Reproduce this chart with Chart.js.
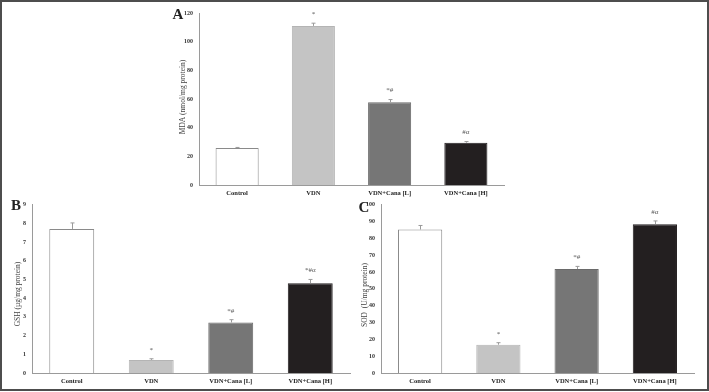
<!DOCTYPE html>
<html>
<head>
<meta charset="utf-8">
<script src="https://cdn.jsdelivr.net/npm/chart.js@4"></script>
<style>
  html, body { margin: 0; padding: 0; background: #fff; }
  #page { position: relative; width: 709px; height: 392px; overflow: hidden; }
  canvas { position: absolute; }
  #frame { position: absolute; left: 0; top: 0; width: 709px; height: 391px; box-sizing: border-box;
           border: 2px solid #4d4d4d; pointer-events: none; }
</style>
</head>
<body>
<div id="page">
  <canvas id="chartA" width="370" height="202" style="left:150px;top:0px"></canvas>
  <canvas id="chartB" width="360" height="195" style="left:0px;top:195px"></canvas>
  <canvas id="chartC" width="357" height="195" style="left:350px;top:195px"></canvas>
  <div id="frame"></div>
</div>
<script>
const groups = ['Control', 'VDN', 'VDN+Cana [L]', 'VDN+Cana [H]'];
const barColors = ['#ffffff', '#c4c4c4', '#767676', '#231f20'];

const mdaValues = [25.8, 111, 57.8, 29.5];
const mdaErrors = [0.4, 1.9, 1.8, 0.8];
const mdaMarks = ['', '*', '*#', '#α'];

const gshValues = [7.7, 0.7, 2.7, 4.8];
const gshErrors = [0.32, 0.06, 0.15, 0.2];
const gshMarks = ['', '*', '*#', '*#α'];

const sodValues = [85.2, 16.8, 61.7, 88.4];
const sodErrors = [2.4, 1.2, 1.6, 1.9];
const sodMarks = ['', '*', '*#', '#α'];

const serif = "'Liberation Serif', 'DejaVu Serif', serif";

// error bars, significance marks, panel letter and y title
const panelExtras = {
    id: 'panelExtras',
    afterDatasetsDraw(chart, args, opts) {
        const { ctx, scales: { y } } = chart;
        const meta = chart.getDatasetMeta(0);
        ctx.save();
        ctx.strokeStyle = '#9a9a9a';
        ctx.lineWidth = 1;
        meta.data.forEach((bar, i) => {
            const top = y.getPixelForValue(opts.values[i] + opts.errors[i]);
            const x = Math.round(bar.x) + 0.5;
            ctx.beginPath();
            ctx.moveTo(x, bar.y);
            ctx.lineTo(x, top);
            ctx.moveTo(x - 2, top);
            ctx.lineTo(x + 2, top);
            ctx.stroke();
            if (opts.marks[i]) {
                ctx.font = '7px ' + serif;
                ctx.fillStyle = '#555';
                ctx.textAlign = 'center';
                ctx.textBaseline = 'middle';
                ctx.fillText(opts.marks[i], bar.x, top - 9);
            }
        });
        // panel letter
        ctx.font = 'bold 15px ' + serif;
        ctx.fillStyle = '#222';
        ctx.textAlign = 'center';
        ctx.textBaseline = 'middle';
        ctx.fillText(opts.letter, opts.letterX, opts.letterY);
        // y title
        ctx.translate(opts.titleX, opts.titleY);
        ctx.rotate(-Math.PI / 2);
        ctx.font = '7.5px ' + serif;
        ctx.fillStyle = '#444';
        ctx.fillText(opts.title, 0, 0);
        ctx.restore();
    }
};

function makePanel(id, values, errors, marks, cfg) {
    new Chart(document.getElementById(id).getContext('2d'), {
        type: 'bar',
        data: {
            labels: groups,
            datasets: [{
                data: values,
                backgroundColor: barColors,
                borderColor: ['#8a8a8a', '#b4b4b4', '#6a6a6a', '#231f20'],
                borderWidth: 1,
                barPercentage: 0.565,
                categoryPercentage: 1
            }]
        },
        options: {
            responsive: false,
            animation: false,
            layout: { padding: { left: 0, top: cfg.top, right: cfg.right, bottom: 0 } },
            plugins: {
                legend: { display: false },
                tooltip: { enabled: false },
                panelExtras: {
                    values: values, errors: errors, marks: marks,
                    letter: cfg.letter, letterX: cfg.letterX, letterY: cfg.letterY,
                    title: cfg.title, titleX: cfg.titleX, titleY: cfg.titleY
                }
            },
            scales: {
                x: {
                    grid: { display: false, drawTicks: false },
                    border: { color: '#9a9a9a', width: 1 },
                    ticks: { font: { family: serif, size: 6.5, weight: 'bold' }, color: '#222', padding: 4, maxRotation: 0 },
                    afterFit: s => { s.height = 17; }
                },
                y: {
                    min: 0, max: cfg.max,
                    grid: { display: false, drawTicks: false },
                    border: { color: '#9a9a9a', width: 1 },
                    ticks: { stepSize: cfg.step, font: { family: serif, size: 6, weight: 'bold' }, color: '#333', padding: 6 },
                    afterFit: s => { s.width = cfg.yWidth; }
                }
            }
        },
        plugins: [panelExtras]
    });
}

makePanel('chartA', mdaValues, mdaErrors, mdaMarks, {
    max: 120, step: 20, top: 13, right: 16, yWidth: 49,
    letter: 'A', letterX: 28, letterY: 15,
    title: 'MDA (nmol/mg protein)', titleX: 33, titleY: 97
});
makePanel('chartB', gshValues, gshErrors, gshMarks, {
    max: 9, step: 1, top: 7, right: 10, yWidth: 32,
    letter: 'B', letterX: 16, letterY: 11,
    title: 'GSH (µg/mg protein)', titleX: 18, titleY: 99
});
makePanel('chartC', sodValues, sodErrors, sodMarks, {
    max: 100, step: 10, top: 6, right: 13, yWidth: 31,
    letter: 'C', letterX: 14, letterY: 13,
    title: 'SOD  (U/mg protein)', titleX: 15, titleY: 100
});
</script>
</body>
</html>
